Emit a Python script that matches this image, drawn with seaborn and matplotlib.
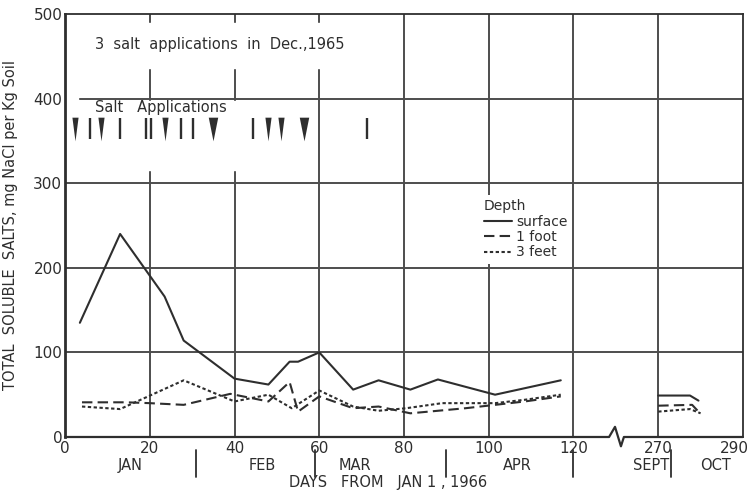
import numpy as np
import pandas as pd
import seaborn as sns
import matplotlib.pyplot as plt
import matplotlib.transforms as mtransforms
from matplotlib.lines import Line2D
from matplotlib.patches import Rectangle

# Soil salt readings (day counted from Jan 1, 1966 -> mg NaCl per kg soil)
surface_days = [3.5, 13, 23.5, 28, 40, 48, 53, 55, 60, 68, 74, 81.5, 88, 101.5, 117, 270, 277.5, 279.5]
surface_vals = [135, 240, 166, 114, 69, 62, 89, 89, 100, 56, 67, 56, 68, 50, 67, 49, 49, 43]

foot1_days = [4, 14.5, 20, 28, 39, 48, 53, 55, 60, 68, 74, 81.5, 94.5, 101.5, 108.5, 117, 270, 278, 279.5]
foot1_vals = [41, 41, 40, 38, 51, 42, 65, 30, 48, 34, 36, 28, 34, 38, 42, 48, 37, 38, 30]

feet3_days = [4, 13, 28, 40, 48, 53.5, 60, 68, 74, 80.5, 89, 101.5, 108.5, 117, 270, 277.5, 280]
feet3_vals = [36, 33, 67, 42, 50, 34, 55, 36, 31, 34, 40, 40, 44, 50, 30, 33, 28]

# salt applications: 1 = single, 2 = wedge, 3 = big wedge
app_days = [2.4, 5.9, 8.4, 13.0, 19.1, 20.2, 23.6, 27.4, 30.3, 35.0, 44.3, 48.0, 50.9, 56.4, 71.3]
app_kind = [2, 1, 2, 1, 1, 1, 2, 1, 1, 3, 1, 2, 2, 3, 1]

tick_days = [0, 20, 40, 60, 80, 100, 120, 270, 290]
month_names = ['JAN', 'FEB', 'MAR', 'APR', 'SEPT', 'OCT']
month_mid = [15.3, 46.5, 68.4, 106.7, 268.3, 283.6]
month_ends = [31, 59, 90, 120, 273]

ink = '#2e2e2e'
grid_col = '#4d4d4d'


def axis_pos(day):
    # squeeze out May-August: 270 sits 20 units past 120
    return day if day <= 120 else day - 130


frames = []
for name, d, v in [('surface', surface_days, surface_vals),
                   ('1 foot', foot1_days, foot1_vals),
                   ('3 feet', feet3_days, feet3_vals)]:
    frames.append(pd.DataFrame({'day': d, 'salts': v, 'depth': name}))
df = pd.concat(frames, ignore_index=True)
df['pos'] = df['day'].map(axis_pos)
df['season'] = np.where(df['day'] > 120, 'fall', 'spring')

sns.set_style('white')
plt.rcParams['font.family'] = ['DejaVu Sans']

fig = plt.figure(figsize=(7.51, 4.93), dpi=100)
ax = fig.add_axes([0.0866, 0.1136, 0.9027, 0.858])

dash_map = {'surface': '', '1 foot': (5, 2.5), '3 feet': (1.6, 1.2)}
sns.lineplot(data=df, x='pos', y='salts', style='depth', units='season',
             estimator=None, dashes=dash_map, color=ink, lw=1.5,
             legend=False, sort=False, ax=ax, zorder=3)

ax.set_xlim(0, 160)
ax.set_ylim(0, 500)

# grid
for t in tick_days[1:-1]:
    ax.axvline(axis_pos(t), color=grid_col, lw=1.4, zorder=0.5)
for v in [100, 200, 300, 400]:
    ax.axhline(v, color=grid_col, lw=1.4, zorder=0.5)

# breaks in the hand-drawn grid behind the lettering
ax.add_patch(Rectangle((6, 436), 58, 53, color='white', zorder=1))
ax.add_patch(Rectangle((0.5, 316), 50, 81, color='white', zorder=1))
ax.add_patch(Rectangle((0.3, 396), 2.7, 8, color='white', zorder=1))

# salt application marks
for d, k in zip(app_days, app_kind):
    if k == 1:
        ax.vlines(d, 352, 377, color=ink, lw=1.7, zorder=3)
    else:
        w = 0.26 if k == 2 else 0.4
        ax.scatter(d, 364.5, marker=[(-w, 1), (w, 1), (0, -1)], s=290,
                   color=ink, linewidths=0, zorder=3)

ax.text(7.1, 464, '3  salt  applications  in  Dec.,1965', fontsize=10.5,
        color=ink, va='center', ha='left', zorder=4)
ax.text(7.1, 390, 'Salt   Applications', fontsize=10.5, color=ink,
        va='center', ha='left', zorder=4)

# legend
handles = [Line2D([], [], color=ink, lw=1.5),
           Line2D([], [], color=ink, lw=1.5, dashes=dash_map['1 foot']),
           Line2D([], [], color=ink, lw=1.5, dashes=dash_map['3 feet'])]
leg = ax.legend(handles, ['surface', '1 foot', '3 feet'], title='Depth',
                loc='upper left', bbox_to_anchor=(0.612, 0.572), frameon=True,
                fontsize=10, title_fontsize=10, handlelength=2.0,
                handletextpad=0.3, labelspacing=0.1, borderpad=0.3,
                borderaxespad=0, alignment='left')
leg.get_frame().set_facecolor('white')
leg.get_frame().set_edgecolor('none')
leg.get_frame().set_alpha(1)
leg.set_zorder(2)
for t in leg.get_texts():
    t.set_color(ink)
leg.get_title().set_color(ink)

# axes frame with broken bottom axis
for s in ['top', 'right']:
    ax.spines[s].set_color(ink)
    ax.spines[s].set_linewidth(1.3)
ax.spines['left'].set_color(ink)
ax.spines['left'].set_linewidth(2)
ax.spines['bottom'].set_visible(False)
ax.plot([0, 128.4, 129.8, 131.2, 131.9, 160], [0, 0, 12, -11, 0, 0],
        color=ink, lw=1.6, clip_on=False, zorder=4)

ax.set_xticks([axis_pos(t) for t in tick_days])
ax.set_xticklabels([str(t) for t in tick_days])
ax.set_yticks([0, 100, 200, 300, 400, 500])
ax.tick_params(length=0, labelsize=11, colors=ink)
ax.tick_params(axis='x', pad=3)
ax.tick_params(axis='y', pad=2)
# last label hugs the right edge of the page
last = ax.get_xticklabels()[-1]
last.set_transform(last.get_transform() +
                   mtransforms.ScaledTranslation(-6 / 72, 0, fig.dpi_scale_trans))
ax.set_xlabel('')
ax.set_ylabel('TOTAL  SOLUBLE  SALTS, mg NaCl per Kg Soil', fontsize=10.5, color=ink)
ax.yaxis.set_label_coords(-0.07, 0.5)

# month names and separators under the axis
xt = ax.get_xaxis_transform()
for name, mid in zip(month_names, month_mid):
    ax.text(axis_pos(mid), -0.067, name, transform=xt, ha='center', va='center',
            fontsize=10.5, color=ink)
for e in month_ends:
    ax.plot([axis_pos(e)] * 2, [-0.03, -0.095], transform=xt, color=ink,
            lw=1.3, clip_on=False)
ax.text(76.2, -0.108, 'DAYS   FROM   JAN 1 , 1966', transform=xt, ha='center',
        va='center', fontsize=10.5, color=ink)

fig.savefig('out.png', dpi=100)
